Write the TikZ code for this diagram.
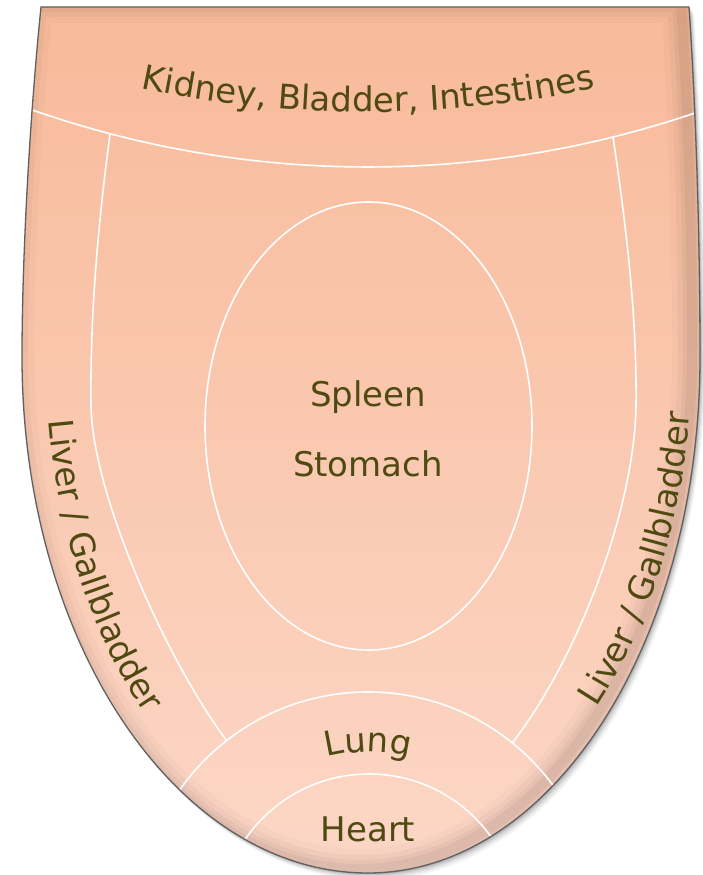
\documentclass[tikz,border=0pt]{standalone}
\usepackage{fontspec}
\setmainfont{DejaVu Sans}
\usetikzlibrary{decorations.text}
\definecolor{txt}{RGB}{78,74,18}
\definecolor{ftop}{RGB}{248,186,154}
\definecolor{fbot}{RGB}{252,215,198}
\newcommand\tongue{(41,868) .. controls (30,760) and (22,620) .. (22,518) arc[start angle=180, end angle=270, x radius=346, y radius=516] arc[start angle=270, end angle=360, x radius=332, y radius=516] .. controls (700,650) and (695,780) .. (689,868) -- cycle}
\newcommand\lbl{\fontsize{34}{34}\selectfont\color{txt}}
\begin{document}
\begin{tikzpicture}[x=1pt,y=1pt,
  sep/.style={white, line width=1.6pt},
  lab/.style={font=\fontsize{34}{34}\selectfont, text=txt, inner sep=0pt, anchor=base},
  curvedlab/.style={decorate, decoration={text along path, text align=center, text={|\lbl|#1}}}]
\useasboundingbox (0,0) rectangle (702,875);
% drop shadow
\foreach \a/\b/\o in {5/7/0.04, 4/5.5/0.05, 3/4/0.07, 2/2.5/0.09, 1/1.2/0.12}{
  \fill[black, opacity=\o, xshift=\a pt, yshift=-\b pt] \tongue;
}
% body
\shade[top color=ftop, bottom color=fbot] \tongue;
\begin{scope}
  \clip \tongue;
  % inner edge shading (darker on the right and bottom)
  \foreach \w/\o in {40/0.02, 28/0.03, 18/0.035, 10/0.045}{
    \draw[black, opacity=\o, line width=\w pt, xshift=-8pt, yshift=4pt] \tongue;
  }
  % separating arcs
  \draw[sep] (368,1725) ++(248:1017) arc[start angle=248, end angle=292, radius=1017];
  \draw[sep] (368,-47) circle[radius=230];
  \draw[sep] (369,-49) circle[radius=150];
\end{scope}
% side lines
\coordinate (lt) at (110,741);
\coordinate (lm) at (91,470);
\coordinate (lb) at (227,134);
\coordinate (rt) at (613,738);
\coordinate (rm) at (636,470);
\coordinate (rb) at (513,133);
\draw[sep] (lt) .. controls (98,650) and (90,560) .. (lm) .. controls (92,380) and (168,212) .. (lb);
\draw[sep] (rt) .. controls (626,650) and (637,560) .. (rm) .. controls (635,370) and (580,220) .. (rb);
% central ellipse
\draw[sep] (368.5,449) ellipse[x radius=163.5, y radius=224];
% outline
\draw[black!62, line width=1.3pt] \tongue;
% labels
\path[curvedlab={Kidney, Bladder, Intestines}] (368,1863) ++(250:1100) arc[start angle=250, end angle=290, radius=1100];
\path[curvedlab={Liver / Gallbladder}] (368,518) ++(178:322 and 494) arc[start angle=178, end angle=238, x radius=322, y radius=494];
\path[curvedlab={Liver / Gallbladder}] (368,518) ++(303:324 and 494) arc[start angle=303, end angle=363, x radius=324, y radius=494];
\path[curvedlab={Lung}] (368,-47) ++(150:170) arc[start angle=150, end angle=30, radius=170];
\node[lab] (spleen) at (368,468) {Spleen};
\node[lab] (stomach) at (368,398) {Stomach};
\node[lab] (heart) at (368,33) {Heart};
\end{tikzpicture}
\end{document}
